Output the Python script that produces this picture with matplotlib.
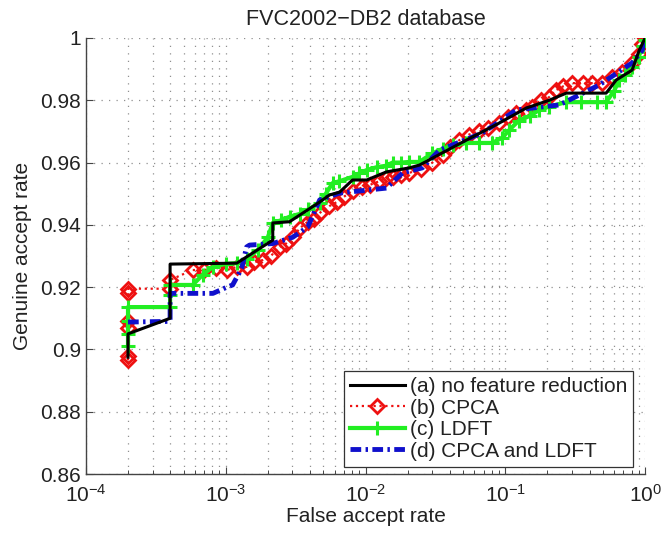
import matplotlib
matplotlib.use("Agg")
import matplotlib.pyplot as plt
from matplotlib.ticker import FixedLocator, FixedFormatter, LogLocator, NullLocator

plt.rcParams['font.family'] = ['Liberation Sans', 'DejaVu Sans']
plt.rcParams['mathtext.fontset'] = 'custom'
plt.rcParams['mathtext.rm'] = 'Liberation Sans'
plt.rcParams['font.size'] = 15

# (a) no feature reduction
far_a = [2.0e-4, 2.0e-4, 4.0e-4, 4.0e-4, 1.2e-3, 2.17e-3, 2.17e-3, 2.86e-3, 4.69e-3,
         5.53e-3, 6.52e-3, 8.07e-3, 1.02e-2, 1.41e-2, 2.06e-2, 2.43e-2, 5.26e-2, 9.06e-2,
         0.141, 0.206, 0.273, 0.526, 0.621, 0.807, 0.906, 1.0]
gar_a = [0.8975, 0.905, 0.910, 0.9274, 0.9277, 0.9351, 0.9406, 0.941, 0.9473,
         0.9496, 0.9505, 0.9544, 0.9544, 0.957, 0.9583, 0.9592, 0.9672, 0.9727,
         0.9775, 0.980, 0.9823, 0.9823, 0.9865, 0.9897, 0.996, 1.0]

# (b) CPCA
far_b = [2e-4, 2e-4, 2e-4, 2e-4, 2e-4, 2e-4, 4e-4, 4e-4,
         5.8e-4, 7e-4, 8.5e-4, 1.02e-3, 1.2e-3, 1.41e-3, 1.6e-3, 1.84e-3, 2.1e-3, 2.43e-3,
         2.7e-3, 3.01e-3, 3.4e-3, 3.86e-3, 4.3e-3, 4.69e-3, 5.5e-3, 6.21e-3, 7e-3, 8.07e-3,
         9.5e-3, 1.07e-2, 1.25e-2, 1.41e-2, 1.56e-2, 1.8e-2, 2.06e-2, 2.5e-2, 3.01e-2,
         3.6e-2, 4.0e-2, 4.69e-2, 5.5e-2, 6.5e-2, 7.5e-2, 9.06e-2, 0.105, 0.12, 0.141,
         0.156, 0.18, 0.206, 0.231, 0.26, 0.301, 0.36, 0.42, 0.493, 0.581, 0.68, 0.807,
         0.9, 0.95, 1.0]
gar_b = [0.8965, 0.898, 0.907, 0.909, 0.918, 0.9195, 0.9195, 0.9223,
         0.9255, 0.9255, 0.9262, 0.9255, 0.9265, 0.9265, 0.928, 0.9287, 0.930, 0.9329,
         0.934, 0.936, 0.939, 0.941, 0.942, 0.9438, 0.946, 0.9473, 0.949, 0.951,
         0.952, 0.9528, 0.954, 0.955, 0.9554, 0.956, 0.9567, 0.958, 0.960,
         0.9625, 0.965, 0.9672, 0.969, 0.970, 0.971, 0.9727, 0.9745, 0.976, 0.977,
         0.9779, 0.980, 0.981, 0.9833, 0.9845, 0.9855, 0.9855, 0.9855, 0.9855, 0.9875, 0.989, 0.992,
         0.995, 0.998, 1.0]

# (c) LDFT
far_c = [2e-4, 2e-4, 2e-4, 2e-4, 4e-4, 4e-4, 4e-4, 5.8e-4, 6.85e-4, 8.1e-4, 1.0e-3,
         1.2e-3, 1.41e-3, 1.7e-3, 2.0e-3, 2.17e-3, 2.5e-3, 2.86e-3, 3.38e-3, 3.9e-3,
         4.69e-3, 5.2e-3, 5.81e-3, 6.5e-3, 8.07e-3, 9.0e-3, 1.02e-2, 1.2e-2, 1.41e-2,
         1.56e-2, 1.8e-2, 2.06e-2, 2.43e-2, 3.01e-2, 3.6e-2, 4.2e-2, 5.26e-2, 6.5e-2,
         8.07e-2, 9.5e-2, 0.107, 0.125, 0.15, 0.175, 0.206, 0.273, 0.35, 0.45, 0.526,
         0.6, 0.652, 0.72, 0.807, 0.9, 0.96, 1.0]
gar_c = [0.901, 0.905, 0.909, 0.9136, 0.9136, 0.9175, 0.9207, 0.9207, 0.924, 0.9265, 0.9275,
         0.9277, 0.929, 0.932, 0.936, 0.9406, 0.9415, 0.9426, 0.9435, 0.945,
         0.947, 0.950, 0.9534, 0.954, 0.9554, 0.9565, 0.9576, 0.9585, 0.959,
         0.960, 0.960, 0.9602, 0.9602, 0.963, 0.9645, 0.9655, 0.9663, 0.9663,
         0.9663, 0.968, 0.9705, 0.9735, 0.975, 0.9769, 0.978, 0.9794, 0.9794, 0.9794, 0.9794,
         0.983, 0.9865, 0.988, 0.9907, 0.994, 0.9975, 0.9994]

# (d) CPCA and LDFT
far_d = [2e-4, 4e-4, 4e-4, 8.1e-4, 1.02e-3, 1.12e-3, 1.3e-3, 1.41e-3, 1.48e-3, 2.17e-3,
         3.01e-3, 3.86e-3, 4.7e-3, 6.52e-3, 9.52e-3, 1.41e-2, 1.84e-2, 2.55e-2, 3.38e-2,
         6.85e-2, 0.12, 0.243, 0.338, 0.469, 0.807, 0.952, 1.0]
gar_d = [0.9088, 0.909, 0.918, 0.918, 0.920, 0.9207, 0.926, 0.9329, 0.9335, 0.934,
         0.936, 0.9393, 0.948, 0.9502, 0.951, 0.9518, 0.9567, 0.9583, 0.964,
         0.9695, 0.9769, 0.9785, 0.9817, 0.9849, 0.992, 0.996, 1.0]

labels = ['(a) no feature reduction', '(b) CPCA', '(c) LDFT', '(d) CPCA and LDFT']
yticks = [0.86, 0.88, 0.9, 0.92, 0.94, 0.96, 0.98, 1.0]
ytick_labels = ['0.86', '0.88', '0.9', '0.92', '0.94', '0.96', '0.98', '1']

fig = plt.figure(figsize=(6.61, 5.35), dpi=100)
ax = fig.add_axes([0.130, 0.114, 0.846, 0.815])

ax.plot(far_a, gar_a, color='black', lw=2.2, label=labels[0], zorder=6)
ax.plot(far_b, gar_b, color='#ee1111', ls=':', lw=1.6, marker='D', ms=7.5,
        mfc='none', mec='#ee1111', mew=2.0, label=labels[1], zorder=3)
ax.plot(far_c, gar_c, color='#22ee22', lw=3.0, marker='+', ms=10, mew=2.2,
        label=labels[2], zorder=4)
ax.plot(far_d, gar_d, color='#1010cc', lw=3.5, ls=(0, (2.2, 0.9, 0.5, 0.9)),
        label=labels[3], zorder=5)

ax.set_xscale('log')
ax.set_xlim(1e-4, 1)
ax.set_ylim(0.86, 1.0)
ax.yaxis.set_major_locator(FixedLocator(yticks))
ax.yaxis.set_major_formatter(FixedFormatter(ytick_labels))
ax.yaxis.set_minor_locator(NullLocator())
ax.xaxis.set_major_locator(LogLocator(base=10, numticks=10))
ax.xaxis.set_minor_locator(LogLocator(base=10, subs=range(2, 10), numticks=20))

grid_style = dict(ls=(0, (1, 5)), color='#909090', lw=0.9)
ax.grid(True, which='major', **grid_style)
ax.grid(True, which='minor', axis='x', **grid_style)
ax.set_axisbelow(True)

for s in ['top', 'right']:
    ax.spines[s].set_visible(False)
for s in ['left', 'bottom']:
    ax.spines[s].set_color('#444444')
    ax.spines[s].set_linewidth(1.0)

ax.tick_params(which='major', direction='in', length=5, width=0.8, color='#444444',
               labelcolor='#222222', labelsize=15)
ax.tick_params(which='minor', direction='in', length=3, width=0.7, color='#444444')
ax.tick_params(axis='x', pad=7)

ax.set_title('FVC2002\u2212DB2 database', fontsize=15.5, color='#222222', pad=9)
ax.set_xlabel('False accept rate', fontsize=15, color='#222222', labelpad=1)
ax.set_ylabel('Genuine accept rate', fontsize=15, color='#222222', labelpad=6)

leg = ax.legend(loc='lower right', bbox_to_anchor=(0.979, 0.016), borderaxespad=0,
                fontsize=15, frameon=True, fancybox=False, framealpha=1,
                edgecolor='#333333', handlelength=2.6, handletextpad=0.25,
                labelspacing=0.12, borderpad=0.3, numpoints=1)
leg.get_frame().set_linewidth(0.9)
for t in leg.get_texts():
    t.set_color('#222222')

fig.savefig('out.png', dpi=100)
